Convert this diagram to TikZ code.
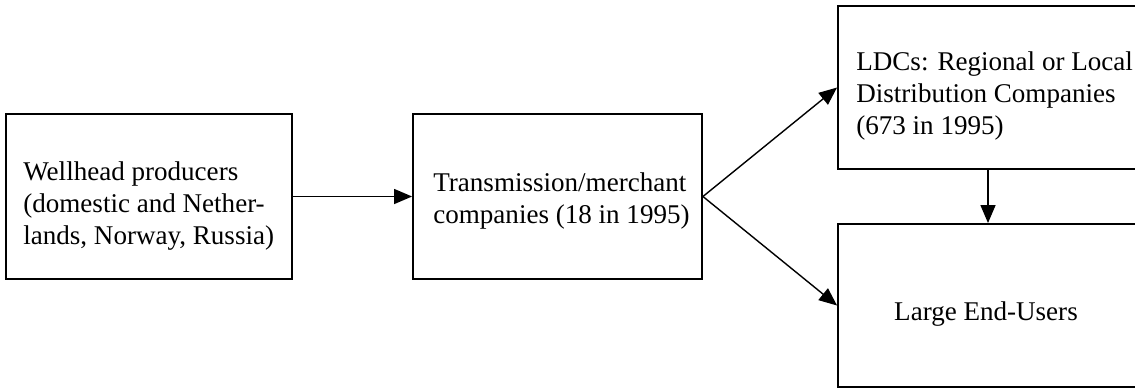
\documentclass[tikz,border=0pt]{standalone}
\usepackage{fontspec}
\setmainfont{Liberation Serif}
\usetikzlibrary{arrows.meta}
\tikzstyle{box}=[draw=black,line width=1.1pt,inner sep=0pt]
\tikzstyle{txt}=[inner sep=0pt,align=left,anchor=base west,font=\fontsize{15.4}{18.2}\selectfont]
\tikzstyle{arrow}=[-{Triangle[length=0.36cm,width=0.3cm]},draw=black,line width=0.8pt]

\begin{document}
\begin{tikzpicture}[x=0.02cm,y=-0.02cm]
 \useasboundingbox (0,0) rectangle (1135,389);
 % frames
 \node [style=box,minimum width=5.72cm,minimum height=3.3cm] (wellhead) at (149,196.5) {};
 \node [style=box,minimum width=5.78cm,minimum height=3.3cm] (transmission) at (557.5,196.5) {};
 \node [style=box,minimum width=6cm,minimum height=3.26cm] (ldc) at (988,87.5) {};
 \node [style=box,minimum width=6cm,minimum height=3.26cm] (enduser) at (988,305.5) {};
 % texts (base = last line)
 \node [style=txt] (wellheadtext) at (23,244) {Wellhead producers\\(domestic and Nether-\\lands, Norway, Russia)};
 \node [style=txt] (transmissiontext) at (433,223) {Transmission/merchant\\companies (18 in 1995)};
 \node [style=txt] (ldctext) at (856,134) {LDCs: Regional or Local\\Distribution Companies\\(673 in 1995)};
 \node [style=txt,anchor=base] (endusertext) at (986,320) {Large End-Users};
 % flows
 \draw [style=arrow] (wellhead.east) to (transmission.west);
 \draw [style=arrow] (transmission.east) to (ldc.west);
 \draw [style=arrow] (transmission.east) to (enduser.west);
 \draw [style=arrow] (ldc.south) to (enduser.north);
\end{tikzpicture}
\end{document}
